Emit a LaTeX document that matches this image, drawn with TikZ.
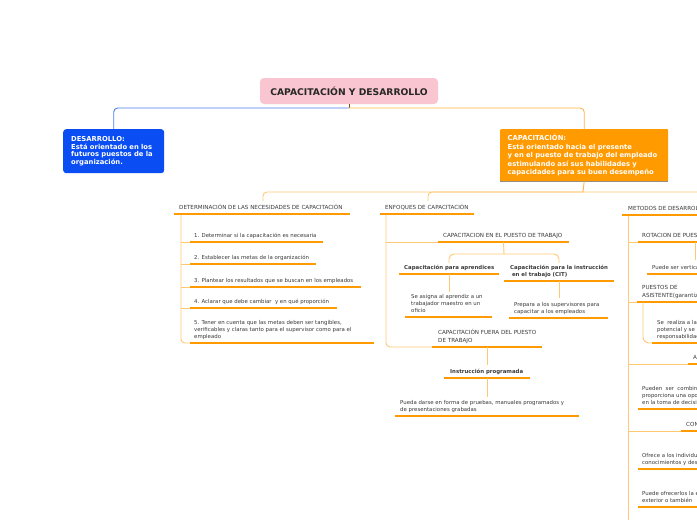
\documentclass[tikz,border=0pt]{standalone}
\usepackage{fontspec}
\setmainfont{DejaVu Sans}
\usetikzlibrary{calc}
\definecolor{ulc}{HTML}{FF9A00}
\definecolor{cnc}{HTML}{FFC872}
\definecolor{bluebox}{HTML}{0A4DF2}
\definecolor{bluel}{HTML}{4A7DF0}
\definecolor{orbox}{HTML}{FF9A00}
\definecolor{orl}{HTML}{FFB444}
\definecolor{pinkb}{HTML}{F8C5D0}
\definecolor{tx}{HTML}{3A3A3A}
\newcommand\dstrut{\rule[-1.3pt]{0pt}{1pt}}
% #1 name, #2 style, #3 text x, #4 underline y, #5 ul x0, #6 ul x1, #7 text
\newcommand\ulnode[7]{%
  \node[#2, anchor=south west] (#1) at ({#3},{#4-3.5}) {#7};
  \coordinate (#1-l) at ({#5},{#4});
  \coordinate (#1-r) at ({#6},{#4});
  \coordinate (#1-m) at ({(#5+#6)/2},{#4});
  \draw[ul] (#1-l) -- (#1-r);
}
\begin{document}
\begin{tikzpicture}[x=1pt,y=-1pt,
  ul/.style={draw=ulc, line width=2.4pt},
  conn/.style={draw=cnc, line width=0.9pt},
  txt/.style={inner sep=0pt, align=left, text=tx, font=\fontsize{5.4}{7}\selectfont, execute at end node=\dstrut},
  hdr/.style={txt, font=\fontsize{5.6}{7.4}\selectfont},
  btxt/.style={txt, font=\bfseries\fontsize{5.4}{7}\selectfont},
  topbox/.style={anchor=north west, inner ysep=0pt, text=white, align=left, font=\bfseries\fontsize{6.8}{7.6}\selectfont},
]
\useasboundingbox (0,0) rectangle (697,520);
\fill[white] (0,0) rectangle (697,520);
\clip (0,0) rectangle (697,520);

% ---------- top level ----------
\node[fill=pinkb, rounded corners=4pt, minimum width=178pt, minimum height=26pt, inner sep=0pt,
      font=\bfseries\fontsize{9.2}{11}\selectfont, text=black!85] (root) at (349,91) {CAPACITACIÓN Y DESARROLLO};

\node[topbox, fill=bluebox, rounded corners=3pt, minimum width=101pt, minimum height=44pt,
      text width=85pt, inner xsep=8pt] (des) at (63,129)
  {DESARROLLO:\\Está orientado en los\\futuros puestos de la\\organización.};

\fill[black!45] (500,180) rectangle (668,182);
\node[topbox, fill=orbox, rounded corners=1pt, minimum width=168pt, minimum height=52pt,
      text width=153pt, inner xsep=7.5pt, font=\bfseries\fontsize{6.8}{8.4}\selectfont] (cap) at (500,129)
  {CAPACITACIÓN:\\Está orientado hacia el presente\\y en el puesto de trabajo del empleado\\estimulando así sus habilidades y\\capacidades para su buen desempeño};

\coordinate (tj) at (349,108);
\draw[draw=black!40!orange, line width=0.9pt] (root.south) -- (tj);
\draw[draw=bluel, line width=0.9pt, rounded corners=4pt] (tj) -| (des.north);
\draw[draw=orl, line width=0.9pt, rounded corners=4pt] (tj) -| (cap.north);

\coordinate (bus) at (583,192);
\coordinate (hdr1-t) at (263,201);
\coordinate (hdr2-t) at (428,201);
\coordinate (hdr3-t) at (701,201);
\draw[draw=orl, line width=0.9pt] (cap.south) -- (bus);
\draw[conn, rounded corners=4pt] (bus) -| (hdr1-t);
\draw[conn, rounded corners=4pt] (bus) -| (hdr2-t);
\draw[conn, rounded corners=4pt] (bus) -| (hdr3-t);

% ---------- left column ----------
\ulnode{hdr1}{hdr}{179}{214}{174}{350}{DETERMINACIÓN DE LAS NECESIDADES DE CAPACITACIÓN}
\ulnode{i1}{txt}{194}{242}{190}{323}{1. Determinar si la capacitación es necesaria}
\ulnode{i2}{txt}{194}{264}{190}{316}{2. Establecer las metas de la organización}
\ulnode{i3}{txt}{194}{287}{190}{361}{3. Plantear los resultados que se buscan en los empleados}
\ulnode{i4}{txt}{194}{308}{190}{337}{4. Aclarar que debe cambiar~ y en qué proporción}
\ulnode{i5}{txt}{194}{343}{190}{374}{5. Tener en cuenta que las metas deben ser tangibles,\\verificables y claras tanto para el supervisor como para el\\empleado}

\coordinate (v1) at (181,215.2);
\draw[conn, rounded corners=4pt] (v1) |- (i5-l);
\foreach \k in {i1,i2,i3,i4} \draw[conn] (v1 |- \k-l) -- (\k-l);

% ---------- middle column ----------
\ulnode{hdr2}{hdr}{385}{214}{380}{474}{ENFOQUES DE CAPACITACIÓN}
\ulnode{m1}{hdr}{443}{242}{438}{569}{CAPACITACION EN EL PUESTO DE TRABAJO}
\ulnode{m1a}{btxt}{404}{274}{399}{499}{Capacitación para aprendices}
\ulnode{m1b}{btxt}{510}{281}{504}{614}{Capacitación para la instrucción\\\ en el trabajo (CIT)}
\ulnode{m1a1}{txt}{411}{317}{405}{492}{Se asigna al aprendiz a un\\trabajador maestro en un\\oficio}
\ulnode{m1b1}{txt}{514}{318}{509}{608}{Prepara a los supervisores para\\capacitar a los empleados}
\ulnode{m2}{hdr}{438}{347}{432}{542}{CAPACITACIÓN FUERA DEL PUESTO\\DE TRABAJO}
\ulnode{m2a}{btxt}{450}{378}{444}{530}{Instrucción programada}
\ulnode{m2a1}{txt}{400}{416}{395}{579}{Pueda darse en forma de pruebas, manuales programados y\\de presentaciones grabadas}

\coordinate (v2) at (386,215.2);
\draw[conn, rounded corners=4pt] (v2) |- (m2-l);
\draw[conn] (v2 |- m1-l) -- (m1-l);
\coordinate (m1-j) at (504,254);
\coordinate (m1a-t) at (449,263);
\coordinate (m1b-t) at (559,263);
\draw[conn] (m1-m) -- (m1-j);
\draw[conn, rounded corners=5pt] (m1-j) -| (m1a-t);
\draw[conn, rounded corners=5pt] (m1-j) -| (m1b-t);
\coordinate (m1a1-t) at (449,292);
\coordinate (m1b1-t) at (559,298);
\draw[conn] (m1a-m) -- (m1a1-t);
\draw[conn] (m1b-m) -- (m1b1-t);
\coordinate (m2a-t) at (487,365);
\coordinate (m2a1-t) at (487,397);
\draw[conn] (m2-m) -- (m2a-t);
\draw[conn] (m2a-m) -- (m2a1-t);

% ---------- right column ----------
\ulnode{hdr3}{hdr}{628}{215}{622}{730}{METODOS DE DESARROLLO}
\ulnode{r1}{hdr}{642}{242}{638}{730}{ROTACION DE PUESTOS}
\ulnode{r1a}{txt}{652}{274}{647}{730}{Puede ser vertical}
\ulnode{r2}{hdr}{642}{302}{637}{730}{PUESTOS DE\\ASISTENTE(garantizando}
\ulnode{r2a}{txt}{657}{343}{652}{730}{Se~ realiza a la persona\\potencial y se le\\responsabilidades}
\ulnode{r3}{hdr}{693}{364}{688}{730}{ACTIVIDADES}
\ulnode{r3a}{txt}{642}{409}{638}{730}{Pueden~ ser~ combinados\\proporciona una oportunidad\\en la toma de decisiones}
\ulnode{r4}{hdr}{686}{431}{681}{730}{CONFERENCIAS}
\ulnode{r4a}{txt}{642}{469}{638}{730}{Ofrece a los individuos\\conocimientos y destrezas}
\ulnode{r4b}{txt}{642}{507}{638}{730}{Puede ofrecerlos la empresa\\exterior o también}

\coordinate (v3) at (628,216.2);
\coordinate (v3-end) at (628,530);
\draw[conn] (v3) -- (v3-end);
\foreach \k in {r1,r2,r3,r4} \draw[conn] (v3 |- \k-l) -- (\k-l);
\coordinate (r1-d) at (695,242);
\coordinate (r1a-t) at (695,260);
\draw[conn] (r1-d) -- (r1a-t);
\coordinate (r2-d) at (643,302);
\draw[conn, rounded corners=6pt] (r2-d) |- (r2a-l);
\end{tikzpicture}
\end{document}
